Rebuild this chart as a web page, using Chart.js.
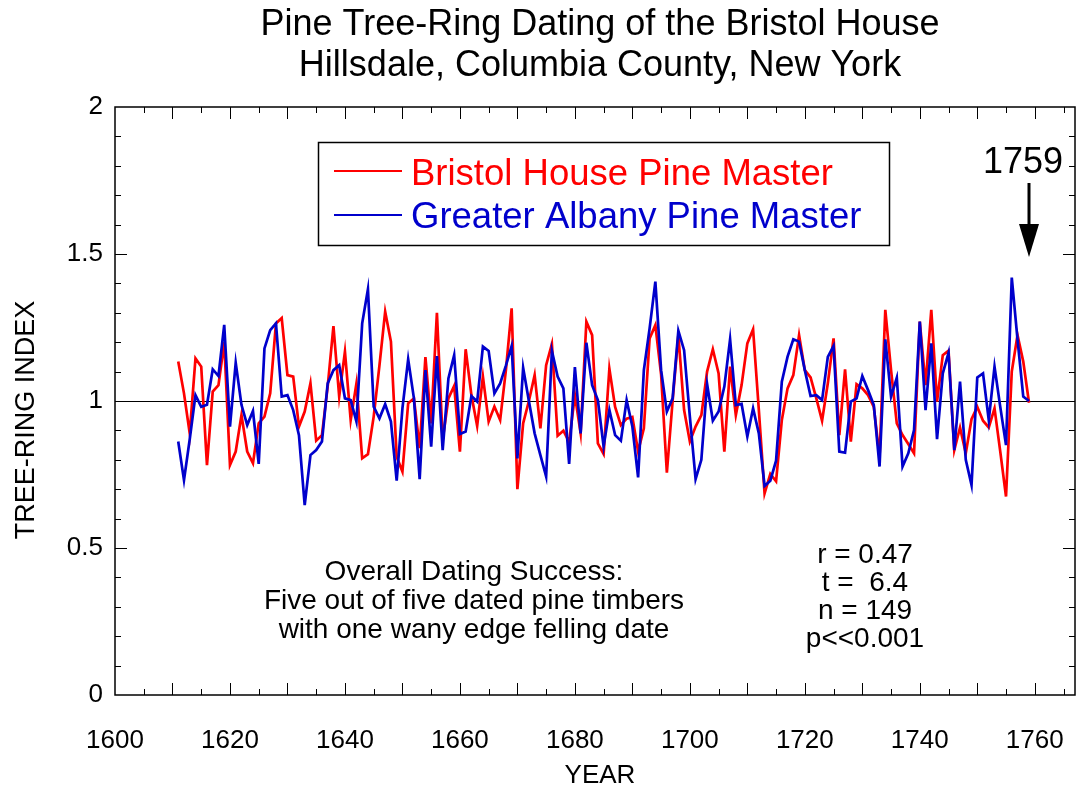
<!DOCTYPE html>
<html>
<head>
<meta charset="utf-8">
<script src="https://cdn.jsdelivr.net/npm/chart.js@4/dist/chart.umd.min.js"></script>
<style>
html,body{margin:0;padding:0;background:#ffffff;}
canvas{display:block;}
</style>
</head>
<body>
<canvas id="c" width="1078" height="785"></canvas>
<script>
// ---------------- data ----------------
const firstYear = 1611;

const bristolHouse = [
1.134,1.026,0.89,1.145,1.117,0.782,1.032,1.054,1.2,0.782,
0.828,0.952,0.828,0.788,0.924,0.947,1.026,1.264,1.282,1.088,
1.083,0.913,0.964,1.06,0.865,0.884,1.05,1.255,1.015,1.168,
0.935,1.06,0.805,0.819,0.947,1.12,1.304,1.202,0.81,0.76,
0.992,1.009,0.84,1.149,0.924,1.30,0.867,1.009,1.051,0.828,
1.176,1.02,0.915,1.083,0.93,0.981,0.935,1.105,1.315,0.70,
0.924,1.0,1.088,0.907,1.122,1.194,0.882,0.899,0.86,1.02,
0.89,1.27,1.224,0.856,0.82,1.11,0.98,0.918,0.94,0.946,
0.828,0.907,1.213,1.258,1.09,0.756,1.0,1.224,0.969,0.862,
0.913,0.952,1.1,1.176,1.094,0.828,1.117,0.952,1.054,1.196,
1.244,0.97,0.686,0.752,0.727,0.935,1.043,1.088,1.224,1.105,
1.08,1.009,0.933,1.06,1.213,0.884,1.108,0.862,1.057,1.043,
1.02,0.98,0.81,1.31,1.105,0.924,0.884,0.854,0.822,1.27,
1.054,1.31,0.998,1.156,1.171,0.833,0.91,0.822,0.938,0.98,
0.933,0.91,0.975,0.828,0.675,1.1,1.224,1.134,0.994
];

const greaterAlbany = [
0.862,0.731,0.87,1.02,0.98,0.987,1.108,1.085,1.259,0.913,
1.13,0.987,0.918,0.966,0.786,1.179,1.241,1.264,1.015,1.02,
0.969,0.884,0.646,0.816,0.833,0.862,1.06,1.105,1.122,1.009,
1.003,0.93,1.264,1.38,0.981,0.941,0.989,0.93,0.729,0.975,
1.142,1.009,0.734,1.105,0.845,1.153,0.833,1.077,1.156,0.888,
0.896,1.017,0.998,1.185,1.17,1.026,1.06,1.12,1.187,0.805,
1.113,1.0,0.89,0.816,0.743,1.171,1.083,1.043,0.786,1.115,
0.89,1.198,1.054,1.003,0.845,0.97,0.884,0.865,1.003,0.913,
0.74,1.105,1.247,1.406,1.105,0.964,1.009,1.239,1.173,0.947,
0.734,0.8,1.058,0.933,0.964,1.049,1.21,0.986,0.99,0.879,
0.975,0.89,0.711,0.729,0.797,1.066,1.151,1.21,1.202,1.105,
1.017,1.02,1.003,1.15,1.187,0.828,0.824,0.998,1.009,1.085,
1.037,0.986,0.777,1.21,1.015,1.079,0.777,0.822,0.901,1.27,
0.969,1.196,0.87,1.094,1.164,0.833,1.066,0.8,0.714,1.08,
1.094,0.935,1.117,0.98,0.85,1.42,1.21,1.015,1.0
];

const years = bristolHouse.map((_, i) => firstYear + i);

const seriesNames = ['Bristol House Pine Master', 'Greater Albany Pine Master'];
const xTickValues = [1600, 1620, 1640, 1660, 1680, 1700, 1720, 1740, 1760];
const xTickLabels = ['1600', '1620', '1640', '1660', '1680', '1700', '1720', '1740', '1760'];
const yTickValues = [0, 0.5, 1, 1.5, 2];
const yTickLabels = ['0', '0.5', '1', '1.5', '2'];
const titleLines = ['Pine Tree-Ring Dating of the Bristol House', 'Hillsdale, Columbia County, New York'];
const xAxisTitle = 'YEAR';
const yAxisTitle = 'TREE-RING INDEX';
const noteLines = ['Overall Dating Success:', 'Five out of five dated pine timbers', 'with one wany edge felling date'];
const statLines = ['r = 0.47', 't =  6.4', 'n = 149', 'p<<0.001'];
const fellingYear = 1759;
const referenceLevel = 1;

// ---------------- styling ----------------
const FONT = '"Liberation Sans", Arial, Helvetica, sans-serif';
const RED = '#ff0000';
const BLUE = '#0000cc';

const decor = {
  id: 'decor',
  beforeDatasetsDraw(chart) {
    const {ctx, chartArea: a, scales: {y}} = chart;
    ctx.save();
    const yr = y.getPixelForValue(referenceLevel);
    ctx.strokeStyle = '#000';
    ctx.lineWidth = 1;
    ctx.beginPath();
    ctx.moveTo(a.left, Math.round(yr) + 0.5);
    ctx.lineTo(a.right, Math.round(yr) + 0.5);
    ctx.stroke();
    ctx.restore();
  },
  afterDraw(chart) {
    const {ctx, chartArea: a, scales: {x, y}} = chart;
    ctx.save();
    // frame
    ctx.strokeStyle = '#000';
    ctx.lineWidth = 1.5;
    ctx.strokeRect(a.left, a.top, a.right - a.left, a.bottom - a.top);

    // x ticks (inward, every 5 years, longer every 10)
    ctx.lineWidth = 1;
    ctx.beginPath();
    for (let v = 1605; v <= x.max; v += 5) {
      const px = Math.round(x.getPixelForValue(v)) + 0.5;
      const len = (v % 10 === 0) ? 12 : 6;
      ctx.moveTo(px, a.bottom); ctx.lineTo(px, a.bottom - len);
      ctx.moveTo(px, a.top); ctx.lineTo(px, a.top + len);
    }
    // y ticks every 0.1, longer every 0.5
    for (let k = 1; k < 20; k++) {
      const v = k / 10;
      const py = Math.round(y.getPixelForValue(v)) + 0.5;
      const len = (k % 5 === 0) ? 12 : 6;
      ctx.moveTo(a.left, py); ctx.lineTo(a.left + len, py);
      ctx.moveTo(a.right, py); ctx.lineTo(a.right - len, py);
    }
    ctx.stroke();

    ctx.fillStyle = '#000';
    ctx.textAlign = 'center';
    ctx.textBaseline = 'alphabetic';
    // titles
    ctx.font = '36px ' + FONT;
    ctx.fillText(titleLines[0], 600, 35);
    ctx.fillText(titleLines[1], 600, 76);

    // axis titles
    ctx.font = '26px ' + FONT;
    ctx.fillText(xAxisTitle, 600, 783);
    ctx.save();
    ctx.translate(34, 420);
    ctx.rotate(-Math.PI / 2);
    ctx.font = '27px ' + FONT;
    ctx.fillText(yAxisTitle, 0, 0);
    ctx.restore();

    // legend box
    ctx.lineWidth = 1.5;
    ctx.strokeRect(318.5, 142.5, 571, 103);
    ctx.lineWidth = 2;
    ctx.strokeStyle = RED;
    ctx.beginPath(); ctx.moveTo(334, 171); ctx.lineTo(402, 171); ctx.stroke();
    ctx.strokeStyle = BLUE;
    ctx.beginPath(); ctx.moveTo(334, 215); ctx.lineTo(402, 215); ctx.stroke();
    ctx.font = '36.5px ' + FONT;
    ctx.textAlign = 'left';
    ctx.fillStyle = RED;
    ctx.fillText(seriesNames[0], 411, 185);
    ctx.fillStyle = BLUE;
    ctx.fillText(seriesNames[1], 411, 228);

    // annotations
    ctx.fillStyle = '#000';
    ctx.textAlign = 'center';
    ctx.font = '28px ' + FONT;
    noteLines.forEach((t, i) => ctx.fillText(t, 474, 580 + i * 29));
    statLines.forEach((t, i) => ctx.fillText(t, 865, 563 + i * 28));

    // felling date arrow
    const ax = Math.round(x.getPixelForValue(fellingYear));
    ctx.font = '36px ' + FONT;
    ctx.fillText(String(fellingYear), ax - 6, 173);
    ctx.strokeStyle = '#000';
    ctx.lineWidth = 3;
    ctx.beginPath(); ctx.moveTo(ax, 183); ctx.lineTo(ax, 232); ctx.stroke();
    ctx.beginPath();
    ctx.moveTo(ax - 10, 224); ctx.lineTo(ax + 10, 224); ctx.lineTo(ax, 257); ctx.closePath();
    ctx.fill();
    ctx.restore();
  }
};

const ctx = document.getElementById('c').getContext('2d');
new Chart(ctx, {
  type: 'line',
  data: {
    datasets: [
      {
        label: seriesNames[0],
        data: years.map((yr, i) => ({x: yr, y: bristolHouse[i]})),
        borderColor: RED, backgroundColor: RED,
        borderWidth: 2.7, pointRadius: 0, tension: 0, order: 2
      },
      {
        label: seriesNames[1],
        data: years.map((yr, i) => ({x: yr, y: greaterAlbany[i]})),
        borderColor: BLUE, backgroundColor: BLUE,
        borderWidth: 2.7, pointRadius: 0, tension: 0, order: 1
      }
    ]
  },
  options: {
    responsive: false,
    animation: false,
    layout: {padding: {left: 0, top: 107, right: 3, bottom: 0}},
    plugins: {legend: {display: false}, title: {display: false}, tooltip: {enabled: false}},
    scales: {
      x: {
        type: 'linear', min: 1600, max: 1767,
        afterBuildTicks: s => { s.ticks = xTickValues.map(v => ({value: v})); },
        afterFit: s => { s.height = 90; s.paddingLeft = 0; s.paddingRight = 0; },
        grid: {display: false, drawTicks: false},
        border: {display: false},
        ticks: {
          color: '#000', font: {family: FONT, size: 26}, padding: 30,
          maxRotation: 0, autoSkip: false,
          callback: (v) => xTickLabels[xTickValues.indexOf(v)]
        }
      },
      y: {
        min: 0, max: 2,
        afterBuildTicks: s => { s.ticks = yTickValues.map(v => ({value: v})); },
        afterFit: s => { s.width = 115; s.paddingTop = 0; s.paddingBottom = 0; },
        grid: {display: false, drawTicks: false},
        border: {display: false},
        ticks: {
          color: '#000', font: {family: FONT, size: 26}, padding: 12,
          callback: (v) => yTickLabels[yTickValues.indexOf(v)]
        }
      }
    }
  },
  plugins: [decor]
});
</script>
</body>
</html>
